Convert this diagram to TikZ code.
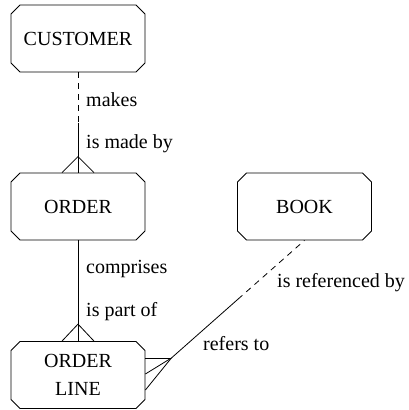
\documentclass[tikz,border=0pt]{standalone}
\usepackage{fontspec}
\setmainfont{Liberation Serif}
\usetikzlibrary{shapes.misc,calc}

\begin{document}
\begin{tikzpicture}[x=1pt,y=-1pt,
  entity/.style={draw,line width=0.8pt,chamfered rectangle,
    chamfered rectangle xsep=4.5pt,chamfered rectangle ysep=4.5pt,
    minimum width=134pt,minimum height=67pt,inner sep=0pt,
    align=center,font=\rmfamily\fontsize{20}{28}\selectfont},
  lab/.style={anchor=base west,inner sep=0pt,font=\rmfamily\fontsize{20}{24}\selectfont},
  rel/.style={line width=0.8pt},
  opt/.style={rel,dash pattern=on 6pt off 5pt}]

\useasboundingbox (0,0) rectangle (408,410);

\node[entity] (customer) at (78,38.5) {CUSTOMER};
\node[entity] (order) at (78,206.5) {ORDER};
\node[entity] (orderline) at (78,375) {ORDER\\LINE};
\node[entity] (book) at (304.5,206.5) {BOOK};

\coordinate (m1) at ($(customer.south)!0.5!(order.north)$);
\coordinate (f1) at ($(order.north)+(0,-16)$);
\draw[opt] (customer.south)--(m1);
\draw[rel] (m1)--(order.north);
\draw[rel] ($(order.north)+(-16,0)$)--(f1)--($(order.north)+(16,0)$);

\coordinate (f2) at ($(orderline.north)+(0,-17)$);
\draw[rel] (order.south)--(orderline.north);
\draw[rel] ($(orderline.north)+(-16,0)$)--(f2)--($(orderline.north)+(16,0)$);

\coordinate (f3) at ($(orderline.east)+(26,-17)$);
\coordinate (m3) at ($(f3)!0.5!(book.south)$);
\draw[rel] ($(orderline.east)+(0,-17)$)--(f3);
\draw[rel] ($(orderline.east)+(0,-1)$)--(f3);
\draw[rel] ($(orderline.east)+(0,15)$)--(f3);
\draw[rel] (f3)--(m3);
\draw[opt] (m3)--(book.south);

\node[lab] (makes) at (86,106) {makes};
\node[lab] (madeby) at (86,148) {is made by};
\node[lab] (comprises) at (86,273) {comprises};
\node[lab] (partof) at (86,316) {is part of};
\node[lab] (refers) at (203,350) {refers to};
\node[lab] (refby) at (277,287) {is referenced by};

\end{tikzpicture}
\end{document}
